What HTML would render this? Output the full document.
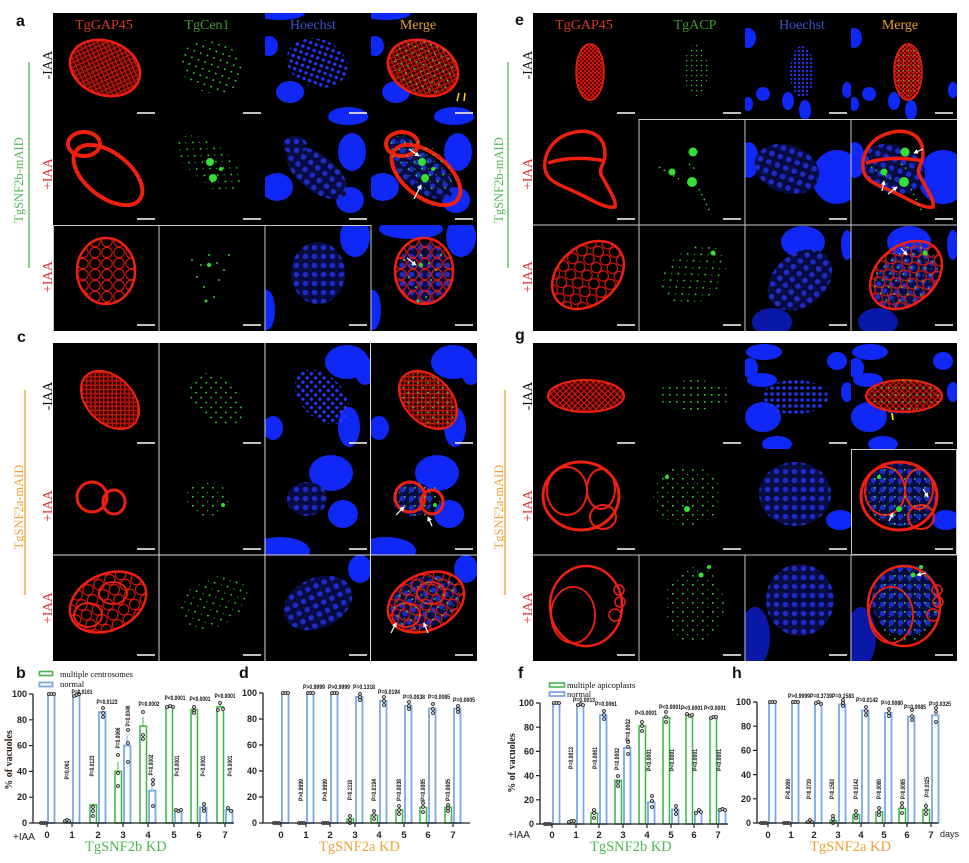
<!DOCTYPE html>
<html><head><meta charset="utf-8">
<style>
html,body{margin:0;padding:0;background:#fff;}
body{width:969px;height:858px;overflow:hidden;}
svg text{font-family:"Liberation Sans",sans-serif;}
.sf{font-family:"Liberation Serif",serif !important;}
.pl{font-size:6px;font-weight:bold;fill:#111;}
.yt{font-size:9px;font-weight:bold;fill:#222;text-anchor:end;}
.xt{font-size:9.5px;font-weight:bold;fill:#223;text-anchor:middle;font-family:"Liberation Serif",serif !important;}
.gb{fill:#fff;stroke:#45b84a;stroke-width:1.6;}
.bb{fill:#fff;stroke:#79a7e3;stroke-width:1.8;}
.dt{fill:#ccc;stroke:#222;stroke-width:.8;}
.ax{stroke:#222;stroke-width:1.3;fill:none;}
</style></head><body>
<svg width="969" height="858" viewBox="0 0 969 858" xmlns="http://www.w3.org/2000/svg">
<defs>
<pattern id="rc" width="6" height="6" patternUnits="userSpaceOnUse"><rect width="6" height="6" fill="#300"/><circle cx="3" cy="3" r="2.4" fill="none" stroke="#f0200f" stroke-width="1"/></pattern>
<pattern id="rcs" width="4" height="4" patternUnits="userSpaceOnUse"><rect width="4" height="4" fill="#400"/><circle cx="2" cy="2" r="1.5" fill="none" stroke="#f0200f" stroke-width=".8"/></pattern>
<pattern id="rcb" width="12" height="11" patternUnits="userSpaceOnUse"><circle cx="6" cy="5.5" r="5.2" fill="none" stroke="#d8180c" stroke-width="1.1"/></pattern>
<pattern id="gd" width="7" height="7" patternUnits="userSpaceOnUse"><rect x="2" y="2" width="1.6" height="1.6" fill="#35d035"/></pattern>
<pattern id="gds" width="5" height="5" patternUnits="userSpaceOnUse"><rect x="2" y="2" width="1.2" height="1.2" fill="#35d035"/></pattern>
<pattern id="gd2" width="10" height="9" patternUnits="userSpaceOnUse"><rect x="3" y="2" width="1.6" height="1.6" fill="#35d035"/><rect x="8" y="7" width="1.2" height="1.2" fill="#2aa02a"/></pattern>
<pattern id="bd" width="6" height="6" patternUnits="userSpaceOnUse"><circle cx="3" cy="3" r="1.8" fill="#2035f5"/></pattern>
<pattern id="bds" width="4" height="4" patternUnits="userSpaceOnUse"><circle cx="2" cy="2" r="1.2" fill="#2035f5"/></pattern>
<pattern id="bdb" width="9" height="9" patternUnits="userSpaceOnUse"><rect width="9" height="9" fill="#080c40"/><circle cx="4.5" cy="4.5" r="2.8" fill="#1c2cc4"/></pattern>
<marker id="ar" viewBox="0 0 6 6" refX="5" refY="3" markerWidth="4" markerHeight="4" orient="auto"><path d="M0,0 L6,3 L0,6 Z" fill="#fff"/></marker>
<g id="sb"><line x1="84" y1="100" x2="102" y2="100" stroke="#fff" stroke-width="1.6"/></g>

<!-- panel a -->
<g id="a1r"><ellipse cx="52" cy="55" rx="36" ry="27" transform="rotate(20 52 55)" fill="url(#rc)" stroke="#f0200f" stroke-width="2.5"/></g>
<g id="a1g"><ellipse cx="53" cy="54" rx="32" ry="26" transform="rotate(20 53 54)" fill="url(#gd)"/></g>
<g id="a1b"><g fill="#1028f5"><ellipse cx="15" cy="0" rx="25" ry="7"/><ellipse cx="4" cy="33" rx="9" ry="10"/><ellipse cx="25" cy="79" rx="14" ry="11"/><ellipse cx="83" cy="104" rx="20" ry="10"/></g><ellipse cx="52" cy="50" rx="31" ry="24" transform="rotate(20 52 50)" fill="url(#bd)"/></g>

<g id="a2r"><g fill="none" stroke="#f0200f" stroke-width="4"><ellipse cx="31" cy="25" rx="16" ry="12"/><ellipse cx="55" cy="56" rx="40" ry="22" transform="rotate(38 55 56)"/></g></g>
<g id="a2g"><ellipse cx="50" cy="45" rx="38" ry="20" transform="rotate(40 50 45)" fill="url(#gd2)"/><circle cx="51" cy="43" r="4" fill="#35e035"/><circle cx="54" cy="59" r="4" fill="#35e035"/><circle cx="62" cy="50" r="2" fill="#35e035"/></g>
<g id="a2b"><g fill="#1028f5"><ellipse cx="12" cy="68" rx="16" ry="14"/><ellipse cx="87" cy="33" rx="14" ry="19"/><ellipse cx="85" cy="81" rx="14" ry="13"/><ellipse cx="83" cy="-2" rx="20" ry="8"/></g><ellipse cx="52" cy="54" rx="36" ry="18" transform="rotate(38 52 54)" fill="url(#bdb)"/><ellipse cx="30" cy="26" rx="12" ry="9" fill="url(#bdb)"/></g>

<g id="a3r"><ellipse cx="53" cy="46" rx="29" ry="33" fill="url(#rcb)" stroke="#f0200f" stroke-width="2.5"/></g>
<g id="a3g" fill="#35d035"><circle cx="42" cy="40" r="1"/><circle cx="50" cy="30" r="1"/><circle cx="60" cy="55" r="1"/><circle cx="45" cy="62" r="1"/><circle cx="55" cy="72" r="1"/><circle cx="65" cy="45" r="1"/><circle cx="38" cy="52" r="1"/><circle cx="50" cy="40" r="2.2"/><circle cx="70" cy="30" r="1"/><circle cx="33" cy="35" r="1"/><circle cx="58" cy="38" r="1"/><circle cx="47" cy="76" r="1.5"/></g>
<g id="a3b"><g fill="#1028f5"><ellipse cx="90" cy="12" rx="15" ry="20"/><ellipse cx="2" cy="85" rx="8" ry="20"/></g><ellipse cx="53" cy="48" rx="27" ry="31" fill="url(#bdb)"/></g>

<!-- panel c -->
<g id="c1r"><ellipse cx="57" cy="57" rx="34" ry="23" transform="rotate(45 57 57)" fill="url(#rc)" stroke="#f0200f" stroke-width="2"/></g>
<g id="c1g"><ellipse cx="57" cy="57" rx="32" ry="21" transform="rotate(45 57 57)" fill="url(#gd)"/></g>
<g id="c1b"><g fill="#1028f5"><ellipse cx="82" cy="19" rx="22" ry="17"/><ellipse cx="100" cy="28" rx="10" ry="14"/><ellipse cx="84" cy="84" rx="11" ry="20"/><ellipse cx="8" cy="85" rx="10" ry="12"/></g><ellipse cx="57" cy="54" rx="32" ry="21" transform="rotate(45 57 54)" fill="url(#bd)"/></g>

<g id="c2r"><g fill="none" stroke="#f0200f" stroke-width="3"><ellipse cx="39" cy="48" rx="15" ry="15"/><ellipse cx="61" cy="53" rx="11" ry="12"/></g></g>
<g id="c2g"><ellipse cx="48" cy="50" rx="22" ry="17" fill="url(#gd2)"/><circle cx="64" cy="56" r="2" fill="#35e035"/></g>
<g id="c2b"><g fill="#1028f5"><ellipse cx="66" cy="24" rx="22" ry="18"/><ellipse cx="78" cy="65" rx="15" ry="14"/><ellipse cx="15" cy="102" rx="30" ry="14"/></g><ellipse cx="42" cy="50" rx="20" ry="17" fill="url(#bdb)"/></g>

<g id="c3r"><ellipse cx="55" cy="47" rx="40" ry="28" transform="rotate(-25 55 47)" fill="url(#rcb)" stroke="#f0200f" stroke-width="2.5"/><g fill="none" stroke="#f0200f" stroke-width="1.8"><ellipse cx="35" cy="60" rx="14" ry="12"/><ellipse cx="60" cy="38" rx="14" ry="11"/></g></g>
<g id="c3g"><ellipse cx="55" cy="47" rx="36" ry="25" transform="rotate(-25 55 47)" fill="url(#gd2)"/></g>
<g id="c3b"><g fill="#1028f5"><ellipse cx="95" cy="14" rx="12" ry="14"/></g><ellipse cx="53" cy="48" rx="36" ry="25" transform="rotate(-25 53 48)" fill="url(#bdb)"/></g>

<!-- panel e -->
<g id="e1r"><ellipse cx="57" cy="59" rx="14" ry="28" fill="url(#rcs)" stroke="#f0200f" stroke-width="1.5"/></g>
<g id="e1g"><ellipse cx="57" cy="57" rx="12" ry="26" fill="url(#gds)"/></g>
<g id="e1b"><g fill="#1028f5"><ellipse cx="3" cy="25" rx="8" ry="10"/><ellipse cx="18" cy="81" rx="7" ry="7"/><ellipse cx="43" cy="88" rx="6" ry="9"/><ellipse cx="60" cy="97" rx="6" ry="10"/><ellipse cx="3" cy="91" rx="5" ry="7"/><ellipse cx="102" cy="77" rx="5" ry="8"/></g><ellipse cx="57" cy="59" rx="12" ry="26" fill="url(#bds)"/></g>

<g id="e2r"><path d="M12,50 C10,35 20,20 35,15 C55,8 72,15 72,35 C72,45 66,48 68,55 C72,65 84,80 82,88 C70,90 55,78 40,72 C25,65 14,62 12,50 Z M15,44 Q40,36 72,42" fill="none" stroke="#f0200f" stroke-width="3.5"/></g>
<g id="e2g"><circle cx="54" cy="33" r="4.5" fill="#35e035"/><circle cx="53" cy="63" r="5" fill="#35e035"/><circle cx="33" cy="53" r="3.5" fill="#35e035"/><path d="M60,70 L65,80 L72,95 M20,48 L40,60 M50,45 L58,52" stroke="#35d035" stroke-width="1.5" stroke-dasharray="1.5 4" fill="none"/></g>
<g id="e2b"><g fill="#1028f5"><ellipse cx="92" cy="58" rx="25" ry="27"/><ellipse cx="4" cy="41" rx="10" ry="18"/></g><ellipse cx="42" cy="50" rx="33" ry="24" transform="rotate(20 42 50)" fill="url(#bdb)"/></g>

<g id="e3r"><ellipse cx="55" cy="50" rx="40" ry="29" transform="rotate(-40 55 50)" fill="url(#rcb)" stroke="#f0200f" stroke-width="2.5"/></g>
<g id="e3g"><ellipse cx="55" cy="50" rx="36" ry="26" transform="rotate(-40 55 50)" fill="url(#gd2)"/><circle cx="74" cy="28" r="2.5" fill="#35e035"/></g>
<g id="e3b"><g fill="#1028f5"><ellipse cx="58" cy="17" rx="22" ry="16"/><ellipse cx="102" cy="20" rx="6" ry="15"/></g><ellipse cx="27" cy="97" rx="20" ry="14" fill="#0a18a8"/><ellipse cx="55" cy="55" rx="36" ry="26" transform="rotate(-40 55 55)" fill="url(#bdb)"/></g>

<!-- panel g -->
<g id="g1r"><ellipse cx="53" cy="53" rx="38" ry="16" fill="url(#rc)" stroke="#f0200f" stroke-width="2"/></g>
<g id="g1g"><ellipse cx="55" cy="52" rx="36" ry="15" fill="url(#gd)"/></g>
<g id="g1b"><g fill="#1028f5"><ellipse cx="19" cy="9" rx="18" ry="8"/><ellipse cx="92" cy="18" rx="10" ry="9"/><ellipse cx="5" cy="25" rx="8" ry="10"/><ellipse cx="17" cy="37" rx="15" ry="7"/><ellipse cx="18" cy="74" rx="18" ry="15"/><ellipse cx="32" cy="101" rx="15" ry="8"/><ellipse cx="102" cy="49" rx="6" ry="10"/></g><ellipse cx="50" cy="54" rx="33" ry="17" fill="url(#bd)"/></g>

<g id="g2r"><g fill="none" stroke="#f0200f"><ellipse cx="48" cy="47" rx="38" ry="34" stroke-width="3"/><ellipse cx="34" cy="42" rx="20" ry="24" stroke-width="2"/><ellipse cx="68" cy="40" rx="14" ry="20" stroke-width="2"/><ellipse cx="70" cy="68" rx="13" ry="12" stroke-width="2"/></g></g>
<g id="g2g"><ellipse cx="48" cy="47" rx="34" ry="30" fill="url(#gd2)"/><circle cx="48" cy="60" r="3" fill="#35e035"/><circle cx="28" cy="28" r="2" fill="#35e035"/></g>
<g id="g2b"><g fill="#1028f5"><ellipse cx="95" cy="71" rx="14" ry="10"/></g><ellipse cx="50" cy="45" rx="36" ry="32" fill="url(#bdb)"/></g>

<g id="g3r"><g fill="none" stroke="#f0200f"><ellipse cx="53" cy="51" rx="36" ry="40" stroke-width="2.5"/><ellipse cx="40" cy="60" rx="22" ry="28" stroke-width="1.8"/><circle cx="86" cy="35" r="5" stroke-width="1.5"/><circle cx="87" cy="47" r="5" stroke-width="1.5"/><circle cx="82" cy="60" r="6" stroke-width="1.5"/></g></g>
<g id="g3g"><ellipse cx="55" cy="50" rx="30" ry="38" fill="url(#gd2)"/><circle cx="62" cy="20" r="2.5" fill="#35e035"/><circle cx="70" cy="12" r="2" fill="#35e035"/></g>
<g id="g3b"><ellipse cx="10" cy="82" rx="15" ry="30" fill="#0a18a8"/><ellipse cx="55" cy="45" rx="34" ry="36" fill="url(#bdb)"/></g>
</defs>

<!-- black backgrounds -->
<rect x="53" y="13" width="424" height="318" fill="#000"/>
<rect x="53" y="343" width="424" height="318" fill="#000"/>
<rect x="533" y="13" width="424" height="318" fill="#000"/>
<rect x="533" y="343" width="424" height="318" fill="#000"/>

<!-- ===== PANEL A cells ===== -->
<svg x="53" y="13" width="106" height="106"><use href="#a1r"/><use href="#sb"/></svg>
<svg x="159" y="13" width="106" height="106"><use href="#a1g"/><use href="#sb"/></svg>
<svg x="265" y="13" width="106" height="106"><use href="#a1b"/><use href="#sb"/></svg>
<svg x="371" y="13" width="106" height="106"><use href="#a1b"/><use href="#a1r"/><use href="#a1g"/><use href="#sb"/><path d="M88,80 l-2,8 M94,80 l-1,8" stroke="#ffd800" stroke-width="1.5"/></svg>
<svg x="53" y="119" width="106" height="106"><use href="#a2r"/><use href="#sb"/></svg>
<svg x="159" y="119" width="106" height="106"><use href="#a2g"/><use href="#sb"/></svg>
<svg x="265" y="119" width="106" height="106"><use href="#a2b"/><use href="#sb"/></svg>
<svg x="371" y="119" width="106" height="106"><use href="#a2b"/><use href="#a2r"/><use href="#a2g"/><use href="#sb"/><line x1="38" y1="30" x2="48" y2="37" stroke="#fff" stroke-width="1.2" marker-end="url(#ar)"/><line x1="43" y1="80" x2="50" y2="66" stroke="#fff" stroke-width="1.2" marker-end="url(#ar)"/></svg>
<svg x="53" y="225" width="106" height="106"><use href="#a3r"/><use href="#sb"/></svg>
<svg x="159" y="225" width="106" height="106"><use href="#a3g"/><use href="#sb"/></svg>
<svg x="265" y="225" width="106" height="106"><use href="#a3b"/><use href="#sb"/></svg>
<svg x="371" y="225" width="106" height="106"><ellipse cx="40" cy="4" rx="32" ry="10" fill="#1028f5"/><use href="#a3b"/><use href="#a3r"/><use href="#a3g"/><use href="#sb"/><line x1="36" y1="33" x2="45" y2="40" stroke="#fff" stroke-width="1.2" marker-end="url(#ar)"/></svg>
<g stroke="#c8c8c8" stroke-width="1" fill="none"><path d="M53.5,225.5 H371 M53.5,225 V331 M159,225 V331 M265,225 V331 M371,225 V331"/></g>

<!-- ===== PANEL C cells ===== -->
<svg x="53" y="343" width="106" height="106"><use href="#c1r"/><use href="#sb"/></svg>
<svg x="159" y="343" width="106" height="106"><use href="#c1g"/><use href="#sb"/></svg>
<svg x="265" y="343" width="106" height="106"><use href="#c1b"/><use href="#sb"/></svg>
<svg x="371" y="343" width="106" height="106"><use href="#c1b"/><use href="#c1r"/><use href="#c1g"/><use href="#sb"/></svg>
<svg x="53" y="449" width="106" height="106"><use href="#c2r"/><use href="#sb"/></svg>
<svg x="159" y="449" width="106" height="106"><use href="#c2g"/><use href="#sb"/></svg>
<svg x="265" y="449" width="106" height="106"><use href="#c2b"/><use href="#sb"/></svg>
<svg x="371" y="449" width="106" height="106"><use href="#c2b"/><use href="#c2r"/><use href="#c2g"/><use href="#sb"/><line x1="25" y1="66" x2="33" y2="58" stroke="#fff" stroke-width="1.2" marker-end="url(#ar)"/><line x1="61" y1="77" x2="57" y2="68" stroke="#fff" stroke-width="1.2" marker-end="url(#ar)"/></svg>
<svg x="53" y="555" width="106" height="106"><use href="#c3r"/><use href="#sb"/></svg>
<svg x="159" y="555" width="106" height="106"><use href="#c3g"/><use href="#sb"/></svg>
<svg x="265" y="555" width="106" height="106"><use href="#c3b"/><use href="#sb"/></svg>
<svg x="371" y="555" width="106" height="106"><use href="#c3b"/><use href="#c3r"/><use href="#c3g"/><use href="#sb"/><line x1="20" y1="78" x2="25" y2="68" stroke="#fff" stroke-width="1.2" marker-end="url(#ar)"/><line x1="57" y1="78" x2="53" y2="68" stroke="#fff" stroke-width="1.2" marker-end="url(#ar)"/></svg>
<g stroke="#dcdcdc" stroke-width="1" fill="none"><path d="M159,343 V661 M265,343 V661 M370.5,343 V661 M53,555 H477"/></g>

<!-- ===== PANEL E cells ===== -->
<svg x="533" y="13" width="106" height="106"><use href="#e1r"/><use href="#sb"/></svg>
<svg x="639" y="13" width="106" height="106"><use href="#e1g"/><use href="#sb"/></svg>
<svg x="745" y="13" width="106" height="106"><use href="#e1b"/><use href="#sb"/></svg>
<svg x="851" y="13" width="106" height="106"><use href="#e1b"/><use href="#e1r"/><use href="#e1g"/><use href="#sb"/></svg>
<svg x="533" y="119" width="106" height="106"><use href="#e2r"/><use href="#sb"/></svg>
<svg x="639" y="119" width="106" height="106"><use href="#e2g"/><use href="#sb"/></svg>
<svg x="745" y="119" width="106" height="106"><use href="#e2b"/><use href="#sb"/></svg>
<svg x="851" y="119" width="106" height="106"><use href="#e2b"/><use href="#e2r"/><use href="#e2g"/><use href="#sb"/><line x1="72" y1="30" x2="63" y2="34" stroke="#fff" stroke-width="1.2" marker-end="url(#ar)"/><line x1="31" y1="72" x2="33" y2="62" stroke="#fff" stroke-width="1.2" marker-end="url(#ar)"/><line x1="37" y1="75" x2="46" y2="68" stroke="#fff" stroke-width="1.2" marker-end="url(#ar)"/></svg>
<svg x="533" y="225" width="106" height="106"><use href="#e3r"/><use href="#sb"/></svg>
<svg x="639" y="225" width="106" height="106"><use href="#e3g"/><use href="#sb"/></svg>
<svg x="745" y="225" width="106" height="106"><use href="#e3b"/><use href="#sb"/></svg>
<svg x="851" y="225" width="106" height="106"><use href="#e3b"/><use href="#e3r"/><use href="#e3g"/><use href="#sb"/><line x1="50" y1="23" x2="56" y2="30" stroke="#fff" stroke-width="1.2" marker-end="url(#ar)"/></svg>
<g stroke="#c8c8c8" stroke-width="1" fill="none"><path d="M639,119.5 H957 M533,225 H957 M639,119 V331 M745,119 V331 M851,119 V331"/></g>

<!-- ===== PANEL G cells ===== -->
<svg x="533" y="343" width="106" height="106"><use href="#g1r"/><use href="#sb"/></svg>
<svg x="639" y="343" width="106" height="106"><use href="#g1g"/><use href="#sb"/></svg>
<svg x="745" y="343" width="106" height="106"><use href="#g1b"/><use href="#sb"/></svg>
<svg x="851" y="343" width="106" height="106"><use href="#g1b"/><use href="#g1r"/><use href="#g1g"/><use href="#sb"/><path d="M41,70 l1,7" stroke="#ffd800" stroke-width="1.8"/></svg>
<svg x="533" y="449" width="106" height="106"><use href="#g2r"/><use href="#sb"/></svg>
<svg x="639" y="449" width="106" height="106"><use href="#g2g"/><use href="#sb"/></svg>
<svg x="745" y="449" width="106" height="106"><use href="#g2b"/><use href="#sb"/></svg>
<svg x="851" y="449" width="106" height="106"><use href="#g2b"/><use href="#g2r"/><use href="#g2g"/><use href="#sb"/><line x1="72" y1="40" x2="77" y2="48" stroke="#fff" stroke-width="1.2" marker-end="url(#ar)"/><line x1="38" y1="72" x2="42" y2="64" stroke="#fff" stroke-width="1.2" marker-end="url(#ar)"/></svg>
<svg x="533" y="555" width="106" height="106"><use href="#g3r"/><use href="#sb"/></svg>
<svg x="639" y="555" width="106" height="106"><use href="#g3g"/><use href="#sb"/></svg>
<svg x="745" y="555" width="106" height="106"><use href="#g3b"/><use href="#sb"/></svg>
<svg x="851" y="555" width="106" height="106"><use href="#g3b"/><use href="#g3r"/><use href="#g3g"/><use href="#sb"/><line x1="75" y1="18" x2="66" y2="20" stroke="#fff" stroke-width="1.2" marker-end="url(#ar)"/></svg>
<g stroke="#c8c8c8" stroke-width="1" fill="none"><rect x="851.5" y="449.5" width="105" height="105"/><path d="M533,555 H957 M639,555 V661 M745,555 V661 M851,555 V661"/></g>

<!-- ===== headers & labels ===== -->
<g font-size="14" text-anchor="middle">
<text x="104" y="29" fill="#d83a22" class="sf">TgGAP45</text>
<text x="207" y="29" fill="#3f9a32" class="sf">TgCen1</text>
<text x="313" y="29" fill="#3a58c8" class="sf">Hoechst</text>
<text x="418" y="29" fill="#e8a030" class="sf">Merge</text>
<text x="584" y="29" fill="#d83a22" class="sf">TgGAP45</text>
<text x="695" y="29" fill="#3f9a32" class="sf">TgACP</text>
<text x="802" y="29" fill="#3a58c8" class="sf">Hoechst</text>
<text x="900" y="29" fill="#e8a030" class="sf">Merge</text>
</g>
<g font-size="16" font-weight="bold" fill="#111">
<text x="16" y="26">a</text><text x="17" y="342">c</text>
<text x="515" y="25">e</text><text x="515" y="340">g</text>
<text x="16" y="678">b</text><text x="239" y="678">d</text>
<text x="518" y="678">f</text><text x="732" y="678">h</text>
</g>
<!-- row labels -->
<g font-size="13.5" text-anchor="middle">
<text class="sf" transform="translate(52,65) rotate(-90)" fill="#111">-IAA</text>
<text class="sf" transform="translate(52,174) rotate(-90)" fill="#e8252a">+IAA</text>
<text class="sf" transform="translate(52,277) rotate(-90)" fill="#e8252a">+IAA</text>
<text class="sf" transform="translate(52,396) rotate(-90)" fill="#111">-IAA</text>
<text class="sf" transform="translate(52,506) rotate(-90)" fill="#e8252a">+IAA</text>
<text class="sf" transform="translate(52,608) rotate(-90)" fill="#e8252a">+IAA</text>
<text class="sf" transform="translate(532,65) rotate(-90)" fill="#111">-IAA</text>
<text class="sf" transform="translate(532,174) rotate(-90)" fill="#e8252a">+IAA</text>
<text class="sf" transform="translate(532,277) rotate(-90)" fill="#e8252a">+IAA</text>
<text class="sf" transform="translate(532,396) rotate(-90)" fill="#111">-IAA</text>
<text class="sf" transform="translate(532,506) rotate(-90)" fill="#e8252a">+IAA</text>
<text class="sf" transform="translate(532,608) rotate(-90)" fill="#e8252a">+IAA</text>
</g>
<g font-size="12.5" text-anchor="middle">
<text class="sf" transform="translate(23,180) rotate(-90)" fill="#4cb84c">TgSNF2b-mAID</text>
<text class="sf" transform="translate(23,507) rotate(-90)" fill="#f0a030">TgSNF2a-mAID</text>
<text class="sf" transform="translate(503,180) rotate(-90)" fill="#4cb84c">TgSNF2b-mAID</text>
<text class="sf" transform="translate(503,507) rotate(-90)" fill="#f0a030">TgSNF2a-mAID</text>
</g>
<line x1="29" y1="62" x2="29" y2="268" stroke="#4cb84c" stroke-width="1.3"/>
<line x1="25" y1="390" x2="25" y2="595" stroke="#f0a030" stroke-width="1.3"/>
<line x1="508" y1="62" x2="508" y2="268" stroke="#4cb84c" stroke-width="1.3"/>
<line x1="505" y1="390" x2="505" y2="595" stroke="#f0a030" stroke-width="1.3"/>

<!-- ===== CHART B ===== -->
<rect x="39.5" y="671.5" width="13" height="4" class="gb"/>
<rect x="39.5" y="682.5" width="13" height="4" class="bb"/>
<text class="sf" x="60" y="677" font-size="8.5" fill="#111">multiple centrosomes</text>
<text class="sf" x="60" y="687" font-size="8.5" fill="#111">normal</text>
<text class="sf" transform="translate(12,760) rotate(-90)" font-size="10" font-weight="bold" text-anchor="middle" fill="#2a1a10">% of vacuoles</text>
<g>
<rect class="gb" x="64" y="821.1" width="6.5" height="1.9"/>
<rect class="gb" x="90" y="804.9" width="6.5" height="18.1"/>
<rect class="gb" x="115" y="771.4" width="6.5" height="51.6"/>
<rect class="gb" x="140" y="726.2" width="6.5" height="96.8"/>
<rect class="gb" x="166" y="706.9" width="6.5" height="116.1"/>
<rect class="gb" x="191" y="709.5" width="6.5" height="113.5"/>
<rect class="gb" x="217" y="706.9" width="6.5" height="116.1"/>
<rect class="bb" x="48" y="694" width="6.5" height="129"/>
<rect class="bb" x="73" y="695.3" width="6.5" height="127.7"/>
<rect class="bb" x="99" y="712.1" width="6.5" height="110.9"/>
<rect class="bb" x="124" y="745.6" width="6.5" height="77.4"/>
<rect class="bb" x="149" y="790.7" width="6.5" height="32.3"/>
<rect class="bb" x="175" y="810.1" width="6.5" height="12.9"/>
<rect class="bb" x="200" y="807.5" width="6.5" height="15.5"/>
<rect class="bb" x="226" y="810.1" width="6.5" height="12.9"/>
</g>
<g stroke="#45b84a" stroke-width="1"><path d="M118,771 V762 M143,726 V717 M220,707 V703"/></g>
<g stroke="#79a7e3" stroke-width="1"><path d="M127,745 V736 M152,790 V782"/></g>
<g class="dt">
<circle cx="41" cy="823" r="1.5"/><circle cx="43.5" cy="823" r="1.5"/><circle cx="46" cy="823" r="1.5"/>
<circle cx="49" cy="694" r="1.5"/><circle cx="51.5" cy="694" r="1.5"/><circle cx="54" cy="694" r="1.5"/>
<circle cx="65" cy="821" r="1.5"/><circle cx="67" cy="820" r="1.5"/><circle cx="69" cy="821" r="1.5"/>
<circle cx="74" cy="696" r="1.5"/><circle cx="76.5" cy="695" r="1.5"/><circle cx="79" cy="694" r="1.5"/>
<circle cx="93" cy="816" r="1.5"/><circle cx="93" cy="811" r="1.5"/><circle cx="93" cy="807" r="1.5"/>
<circle cx="103" cy="708" r="1.5"/><circle cx="103" cy="713" r="1.5"/><circle cx="103" cy="717" r="1.5"/>
<circle cx="118" cy="755" r="1.5"/><circle cx="118" cy="786" r="1.5"/><circle cx="118" cy="773" r="1.5"/>
<circle cx="128" cy="730" r="1.5"/><circle cx="128" cy="762" r="1.5"/><circle cx="128" cy="743" r="1.5"/>
<circle cx="143" cy="712" r="1.5"/><circle cx="143" cy="739" r="1.5"/><circle cx="143" cy="735" r="1.5"/>
<circle cx="153" cy="780" r="1.5"/><circle cx="153" cy="806" r="1.5"/><circle cx="153" cy="784" r="1.5"/>
<circle cx="167" cy="707" r="1.5"/><circle cx="170" cy="706" r="1.5"/><circle cx="173" cy="707" r="1.5"/>
<circle cx="176" cy="810" r="1.5"/><circle cx="178.5" cy="811" r="1.5"/><circle cx="181" cy="810" r="1.5"/>
<circle cx="194" cy="707" r="1.5"/><circle cx="194" cy="711" r="1.5"/><circle cx="194" cy="713" r="1.5"/>
<circle cx="204" cy="804" r="1.5"/><circle cx="204" cy="808" r="1.5"/><circle cx="204" cy="811" r="1.5"/>
<circle cx="218" cy="710" r="1.5"/><circle cx="220" cy="703" r="1.5"/><circle cx="223" cy="709" r="1.5"/>
<circle cx="228" cy="808" r="1.5"/><circle cx="231" cy="811" r="1.5"/>
</g>
<path class="ax" d="M33,694 V823 H234"/>
<g stroke="#222" stroke-width="1.2"><path d="M29,823H33 M29,797.2H33 M29,771.4H33 M29,745.6H33 M29,719.8H33 M29,694H33 M47,823V827 M72,823V827 M98,823V827 M123,823V827 M148,823V827 M174,823V827 M199,823V827 M225,823V827"/></g>
<g class="yt"><text x="27" y="826">0</text><text x="27" y="800">20</text><text x="27" y="774.5">40</text><text x="27" y="748.5">60</text><text x="27" y="723">80</text><text x="27" y="697">100</text></g>
<g class="xt"><text x="47" y="838">0</text><text x="72" y="838">1</text><text x="98" y="838">2</text><text x="123" y="838">3</text><text x="148" y="838">4</text><text x="174" y="838">5</text><text x="199" y="838">6</text><text x="225" y="838">7</text></g>
<text x="13" y="840" font-size="10" fill="#222">+IAA</text>
<text class="sf" x="85" y="851" font-size="14.5" fill="#4cb84c">TgSNF2b KD</text>
<g class="pl" text-anchor="middle">
<text x="82" y="694" textLength="21" lengthAdjust="spacingAndGlyphs">P=0.0161</text>
<text x="107" y="704" textLength="21" lengthAdjust="spacingAndGlyphs">P=0.0123</text>
<text x="149" y="706" textLength="21" lengthAdjust="spacingAndGlyphs">P=0.0002</text>
<text x="175" y="700" textLength="21" lengthAdjust="spacingAndGlyphs">P&lt;0.0001</text>
<text x="200" y="701" textLength="21" lengthAdjust="spacingAndGlyphs">P&lt;0.0001</text>
<text x="225" y="698" textLength="21" lengthAdjust="spacingAndGlyphs">P&lt;0.0001</text>
<text transform="translate(130,716) rotate(-90)" textLength="21" lengthAdjust="spacingAndGlyphs">P=0.0046</text>
<text transform="translate(120,738) rotate(-90)" textLength="21" lengthAdjust="spacingAndGlyphs">P=0.0066</text>
<text transform="translate(69,770) rotate(-90)" textLength="19" lengthAdjust="spacingAndGlyphs">P=0.061</text>
<text transform="translate(94,766) rotate(-90)" textLength="21" lengthAdjust="spacingAndGlyphs">P=0.0123</text>
<text transform="translate(153,765) rotate(-90)" textLength="21" lengthAdjust="spacingAndGlyphs">P=0.0002</text>
<text transform="translate(179,766) rotate(-90)" textLength="21" lengthAdjust="spacingAndGlyphs">P&lt;0.0001</text>
<text transform="translate(205,766) rotate(-90)" textLength="21" lengthAdjust="spacingAndGlyphs">P&lt;0.0001</text>
<text transform="translate(232,766) rotate(-90)" textLength="21" lengthAdjust="spacingAndGlyphs">P&lt;0.0001</text>
</g>

<!-- ===== CHART D ===== -->
<g>
<rect class="gb" x="347" y="819.1" width="6.5" height="3.9"/>
<rect class="gb" x="371" y="815.2" width="6.5" height="7.8"/>
<rect class="gb" x="396" y="810" width="6.5" height="13"/>
<rect class="gb" x="420" y="807.4" width="6.5" height="15.6"/>
<rect class="gb" x="445" y="807.4" width="6.5" height="15.6"/>
<rect class="bb" x="282" y="693" width="6.5" height="130"/>
<rect class="bb" x="307" y="693" width="6.5" height="130"/>
<rect class="bb" x="331" y="693" width="6.5" height="130"/>
<rect class="bb" x="356" y="696.9" width="6.5" height="126.1"/>
<rect class="bb" x="380" y="700.8" width="6.5" height="122.2"/>
<rect class="bb" x="405" y="706" width="6.5" height="117"/>
<rect class="bb" x="429" y="708.6" width="6.5" height="114.4"/>
<rect class="bb" x="454" y="708.6" width="6.5" height="114.4"/>
</g>
<g class="dt">
<circle cx="274" cy="823" r="1.5"/><circle cx="276.5" cy="823" r="1.5"/><circle cx="279" cy="823" r="1.5"/>
<circle cx="299" cy="823" r="1.5"/><circle cx="301.5" cy="823" r="1.5"/><circle cx="304" cy="823" r="1.5"/>
<circle cx="323" cy="823" r="1.5"/><circle cx="325.5" cy="823" r="1.5"/><circle cx="328" cy="823" r="1.5"/>
<circle cx="283" cy="693" r="1.5"/><circle cx="285.5" cy="693" r="1.5"/><circle cx="288" cy="693" r="1.5"/>
<circle cx="308" cy="693" r="1.5"/><circle cx="310.5" cy="693" r="1.5"/><circle cx="313" cy="693" r="1.5"/>
<circle cx="332" cy="693" r="1.5"/><circle cx="334.5" cy="693" r="1.5"/><circle cx="337" cy="693" r="1.5"/>
<circle cx="350" cy="816" r="1.5"/><circle cx="350" cy="820" r="1.5"/><circle cx="350" cy="823" r="1.5"/>
<circle cx="360" cy="694" r="1.5"/><circle cx="360" cy="697" r="1.5"/><circle cx="360" cy="700" r="1.5"/>
<circle cx="374" cy="811" r="1.5"/><circle cx="374" cy="815" r="1.5"/><circle cx="374" cy="819" r="1.5"/>
<circle cx="384" cy="697" r="1.5"/><circle cx="384" cy="701" r="1.5"/><circle cx="384" cy="705" r="1.5"/>
<circle cx="399" cy="806" r="1.5"/><circle cx="399" cy="810" r="1.5"/><circle cx="399" cy="814" r="1.5"/>
<circle cx="409" cy="702" r="1.5"/><circle cx="409" cy="706" r="1.5"/><circle cx="409" cy="709" r="1.5"/>
<circle cx="423" cy="803" r="1.5"/><circle cx="423" cy="807" r="1.5"/><circle cx="423" cy="812" r="1.5"/>
<circle cx="433" cy="704" r="1.5"/><circle cx="433" cy="709" r="1.5"/><circle cx="433" cy="713" r="1.5"/>
<circle cx="448" cy="805" r="1.5"/><circle cx="448" cy="808" r="1.5"/><circle cx="448" cy="811" r="1.5"/>
<circle cx="458" cy="706" r="1.5"/><circle cx="458" cy="709" r="1.5"/><circle cx="458" cy="712" r="1.5"/>
</g>
<path class="ax" d="M263,693 V823 H470"/>
<g stroke="#222" stroke-width="1.2"><path d="M259,823H263 M259,797H263 M259,771H263 M259,745H263 M259,719H263 M259,693H263 M281,823V827 M306,823V827 M330,823V827 M355,823V827 M379,823V827 M404,823V827 M428,823V827 M453,823V827"/></g>
<g class="yt"><text x="257" y="826">0</text><text x="257" y="800">20</text><text x="257" y="774">40</text><text x="257" y="748">60</text><text x="257" y="722">80</text><text x="257" y="696">100</text></g>
<g class="xt"><text x="281" y="838">0</text><text x="306" y="838">1</text><text x="330" y="838">2</text><text x="355" y="838">3</text><text x="379" y="838">4</text><text x="404" y="838">5</text><text x="428" y="838">6</text><text x="453" y="838">7</text></g>
<text class="sf" x="319" y="851" font-size="14.5" fill="#f0a030">TgSNF2a KD</text>
<g class="pl" text-anchor="middle">
<text x="314" y="689" textLength="22" lengthAdjust="spacingAndGlyphs">P&gt;0.9999</text>
<text x="339" y="689" textLength="22" lengthAdjust="spacingAndGlyphs">P&gt;0.9999</text>
<text x="364" y="689" textLength="22" lengthAdjust="spacingAndGlyphs">P=0.1318</text>
<text x="389" y="694" textLength="22" lengthAdjust="spacingAndGlyphs">P=0.0194</text>
<text x="414" y="699" textLength="22" lengthAdjust="spacingAndGlyphs">P=0.0038</text>
<text x="439" y="699" textLength="22" lengthAdjust="spacingAndGlyphs">P=0.0085</text>
<text x="464" y="702" textLength="22" lengthAdjust="spacingAndGlyphs">P=0.0005</text>
<text transform="translate(303,790) rotate(-90)" textLength="22" lengthAdjust="spacingAndGlyphs">P&gt;0.9999</text>
<text transform="translate(327,790) rotate(-90)" textLength="22" lengthAdjust="spacingAndGlyphs">P&gt;0.9999</text>
<text transform="translate(352,790) rotate(-90)" textLength="20" lengthAdjust="spacingAndGlyphs">P=0.1318</text>
<text transform="translate(376,790) rotate(-90)" textLength="22" lengthAdjust="spacingAndGlyphs">P=0.0194</text>
<text transform="translate(401,790) rotate(-90)" textLength="22" lengthAdjust="spacingAndGlyphs">P=0.0038</text>
<text transform="translate(425,790) rotate(-90)" textLength="22" lengthAdjust="spacingAndGlyphs">P=0.0085</text>
<text transform="translate(450,790) rotate(-90)" textLength="22" lengthAdjust="spacingAndGlyphs">P=0.0005</text>
</g>

<!-- ===== CHART F ===== -->
<rect x="549.5" y="683" width="15" height="4" class="gb"/>
<rect x="549.5" y="692" width="15" height="4" class="bb"/>
<text class="sf" x="567" y="688" font-size="8.5" fill="#111">multiple apicoplasts</text>
<text class="sf" x="567" y="697" font-size="8.5" fill="#111">normal</text>
<text class="sf" transform="translate(515,763) rotate(-90)" font-size="10" font-weight="bold" text-anchor="middle" fill="#2a1a10">% of vacuoles</text>
<g>
<rect class="gb" x="568" y="821.6" width="6.5" height="2.4"/>
<rect class="gb" x="591" y="813.1" width="6.5" height="10.9"/>
<rect class="gb" x="615" y="780.4" width="6.5" height="43.6"/>
<rect class="gb" x="639" y="726" width="6.5" height="98"/>
<rect class="gb" x="663" y="717.5" width="6.5" height="106.5"/>
<rect class="gb" x="686" y="715.1" width="6.5" height="108.9"/>
<rect class="gb" x="710" y="717.5" width="6.5" height="106.5"/>
<rect class="bb" x="553" y="703" width="6.5" height="121"/>
<rect class="bb" x="577" y="705.4" width="6.5" height="118.6"/>
<rect class="bb" x="600" y="715.1" width="6.5" height="108.9"/>
<rect class="bb" x="624" y="747.8" width="6.5" height="76.2"/>
<rect class="bb" x="648" y="802.2" width="6.5" height="21.8"/>
<rect class="bb" x="672" y="809.5" width="6.5" height="14.5"/>
<rect class="bb" x="695" y="811.9" width="6.5" height="12.1"/>
<rect class="bb" x="719" y="809.5" width="6.5" height="14.5"/>
</g>
<g class="dt">
<circle cx="545" cy="824" r="1.5"/><circle cx="547.5" cy="824" r="1.5"/><circle cx="550" cy="824" r="1.5"/>
<circle cx="554" cy="703" r="1.5"/><circle cx="556.5" cy="703" r="1.5"/><circle cx="559" cy="703" r="1.5"/>
<circle cx="569" cy="822" r="1.5"/><circle cx="571.5" cy="821" r="1.5"/><circle cx="574" cy="821" r="1.5"/>
<circle cx="578" cy="705" r="1.5"/><circle cx="580.5" cy="704" r="1.5"/><circle cx="583" cy="705" r="1.5"/>
<circle cx="594" cy="818" r="1.5"/><circle cx="594" cy="813" r="1.5"/><circle cx="594" cy="810" r="1.5"/>
<circle cx="604" cy="711" r="1.5"/><circle cx="604" cy="715" r="1.5"/><circle cx="604" cy="719" r="1.5"/>
<circle cx="618" cy="776" r="1.5"/><circle cx="618" cy="782" r="1.5"/><circle cx="618" cy="786" r="1.5"/>
<circle cx="628" cy="742" r="1.5"/><circle cx="628" cy="747" r="1.5"/><circle cx="628" cy="754" r="1.5"/>
<circle cx="642" cy="722" r="1.5"/><circle cx="642" cy="726" r="1.5"/><circle cx="642" cy="731" r="1.5"/>
<circle cx="652" cy="796" r="1.5"/><circle cx="652" cy="801" r="1.5"/><circle cx="652" cy="807" r="1.5"/>
<circle cx="666" cy="712" r="1.5"/><circle cx="666" cy="717" r="1.5"/><circle cx="666" cy="722" r="1.5"/>
<circle cx="676" cy="806" r="1.5"/><circle cx="676" cy="810" r="1.5"/><circle cx="676" cy="814" r="1.5"/>
<circle cx="687" cy="714" r="1.5"/><circle cx="690" cy="716" r="1.5"/><circle cx="692" cy="715" r="1.5"/>
<circle cx="696" cy="813" r="1.5"/><circle cx="699" cy="810" r="1.5"/><circle cx="701" cy="812" r="1.5"/>
<circle cx="711" cy="718" r="1.5"/><circle cx="713.5" cy="717" r="1.5"/><circle cx="716" cy="717" r="1.5"/>
<circle cx="720" cy="810" r="1.5"/><circle cx="722.5" cy="809" r="1.5"/><circle cx="725" cy="810" r="1.5"/>
</g>
<path class="ax" d="M540,703 V824 H728"/>
<g stroke="#222" stroke-width="1.2"><path d="M536,824H540 M536,799.8H540 M536,775.6H540 M536,751.4H540 M536,727.2H540 M536,703H540 M552,824V828 M576,824V828 M599,824V828 M623,824V828 M647,824V828 M671,824V828 M694,824V828 M718,824V828"/></g>
<g class="yt"><text x="534" y="827">0</text><text x="534" y="803">20</text><text x="534" y="779">40</text><text x="534" y="754.5">60</text><text x="534" y="730.5">80</text><text x="534" y="706">100</text></g>
<g class="xt"><text x="552" y="838">0</text><text x="576" y="838">1</text><text x="599" y="838">2</text><text x="623" y="838">3</text><text x="647" y="838">4</text><text x="671" y="838">5</text><text x="694" y="838">6</text><text x="718" y="838">7</text></g>
<text x="508" y="838" font-size="10" fill="#222">+IAA</text>
<text class="sf" x="590" y="851" font-size="14.5" fill="#4cb84c">TgSNF2b KD</text>
<g class="pl" text-anchor="middle">
<text x="584" y="702" textLength="22" lengthAdjust="spacingAndGlyphs">P=0.0013</text>
<text x="606" y="706" textLength="22" lengthAdjust="spacingAndGlyphs">P=0.0061</text>
<text x="646" y="715" textLength="22" lengthAdjust="spacingAndGlyphs">P&lt;0.0001</text>
<text x="670" y="709" textLength="22" lengthAdjust="spacingAndGlyphs">P&lt;0.0001</text>
<text x="692" y="710" textLength="22" lengthAdjust="spacingAndGlyphs">P&lt;0.0001</text>
<text x="715" y="710" textLength="22" lengthAdjust="spacingAndGlyphs">P&lt;0.0001</text>
<text transform="translate(630,730) rotate(-90)" textLength="22" lengthAdjust="spacingAndGlyphs">P=0.0002</text>
<text transform="translate(573,758) rotate(-90)" textLength="22" lengthAdjust="spacingAndGlyphs">P=0.0013</text>
<text transform="translate(597,758) rotate(-90)" textLength="22" lengthAdjust="spacingAndGlyphs">P=0.0061</text>
<text transform="translate(619,759) rotate(-90)" textLength="22" lengthAdjust="spacingAndGlyphs">P=0.0002</text>
<text transform="translate(651,760) rotate(-90)" textLength="22" lengthAdjust="spacingAndGlyphs">P&lt;0.0001</text>
<text transform="translate(674,760) rotate(-90)" textLength="22" lengthAdjust="spacingAndGlyphs">P&lt;0.0001</text>
<text transform="translate(697,760) rotate(-90)" textLength="22" lengthAdjust="spacingAndGlyphs">P&lt;0.0001</text>
<text transform="translate(721,760) rotate(-90)" textLength="22" lengthAdjust="spacingAndGlyphs">P&lt;0.0001</text>
</g>

<!-- ===== CHART H ===== -->
<g>
<rect class="gb" x="806" y="821.8" width="6.5" height="1.2"/>
<rect class="gb" x="830" y="820.6" width="6.5" height="2.4"/>
<rect class="gb" x="853" y="814.5" width="6.5" height="8.5"/>
<rect class="gb" x="876" y="812.1" width="6.5" height="10.9"/>
<rect class="gb" x="899" y="808.5" width="6.5" height="14.5"/>
<rect class="gb" x="923" y="809.7" width="6.5" height="13.3"/>
<rect class="bb" x="769" y="702" width="6.5" height="121"/>
<rect class="bb" x="792" y="702" width="6.5" height="121"/>
<rect class="bb" x="815" y="703.2" width="6.5" height="119.8"/>
<rect class="bb" x="839" y="704.4" width="6.5" height="118.6"/>
<rect class="bb" x="862" y="710.5" width="6.5" height="112.5"/>
<rect class="bb" x="885" y="712.9" width="6.5" height="110.1"/>
<rect class="bb" x="908" y="716.5" width="6.5" height="106.5"/>
<rect class="bb" x="932" y="715.3" width="6.5" height="107.7"/>
</g>
<g stroke="#45b84a" stroke-width="1"><path d="M926,809 V802"/></g>
<g class="dt">
<circle cx="761" cy="823" r="1.5"/><circle cx="763.5" cy="823" r="1.5"/><circle cx="766" cy="823" r="1.5"/>
<circle cx="784" cy="823" r="1.5"/><circle cx="786.5" cy="823" r="1.5"/><circle cx="789" cy="823" r="1.5"/>
<circle cx="770" cy="702" r="1.5"/><circle cx="772.5" cy="702" r="1.5"/><circle cx="775" cy="702" r="1.5"/>
<circle cx="793" cy="702" r="1.5"/><circle cx="795.5" cy="702" r="1.5"/><circle cx="798" cy="702" r="1.5"/>
<circle cx="808" cy="822" r="1.5"/><circle cx="810" cy="820" r="1.5"/><circle cx="812" cy="822" r="1.5"/>
<circle cx="816" cy="703" r="1.5"/><circle cx="818.5" cy="702" r="1.5"/><circle cx="821" cy="704" r="1.5"/>
<circle cx="833" cy="823" r="1.5"/><circle cx="833" cy="819" r="1.5"/><circle cx="833" cy="816" r="1.5"/>
<circle cx="843" cy="700" r="1.5"/><circle cx="843" cy="703" r="1.5"/><circle cx="843" cy="706" r="1.5"/>
<circle cx="856" cy="811" r="1.5"/><circle cx="856" cy="815" r="1.5"/><circle cx="856" cy="818" r="1.5"/>
<circle cx="866" cy="707" r="1.5"/><circle cx="866" cy="711" r="1.5"/><circle cx="866" cy="715" r="1.5"/>
<circle cx="879" cy="808" r="1.5"/><circle cx="879" cy="812" r="1.5"/><circle cx="879" cy="815" r="1.5"/>
<circle cx="889" cy="709" r="1.5"/><circle cx="889" cy="713" r="1.5"/><circle cx="889" cy="716" r="1.5"/>
<circle cx="902" cy="803" r="1.5"/><circle cx="902" cy="807" r="1.5"/><circle cx="902" cy="813" r="1.5"/>
<circle cx="912" cy="710" r="1.5"/><circle cx="912" cy="716" r="1.5"/><circle cx="912" cy="720" r="1.5"/>
<circle cx="926" cy="806" r="1.5"/><circle cx="926" cy="810" r="1.5"/><circle cx="926" cy="814" r="1.5"/>
<circle cx="936" cy="708" r="1.5"/><circle cx="936" cy="712" r="1.5"/><circle cx="936" cy="722" r="1.5"/>
</g>
<path class="ax" d="M757,702 V823 H938"/>
<g stroke="#222" stroke-width="1.2"><path d="M753,823H757 M753,798.8H757 M753,774.6H757 M753,750.4H757 M753,726.2H757 M753,702H757 M768,823V827 M791,823V827 M814,823V827 M838,823V827 M861,823V827 M884,823V827 M907,823V827 M931,823V827"/></g>
<g class="yt"><text x="751" y="826">0</text><text x="751" y="802">20</text><text x="751" y="778">40</text><text x="751" y="753.5">60</text><text x="751" y="729.5">80</text><text x="751" y="705">100</text></g>
<g class="xt"><text x="768" y="838">0</text><text x="791" y="838">1</text><text x="814" y="838">2</text><text x="838" y="838">3</text><text x="861" y="838">4</text><text x="884" y="838">5</text><text x="907" y="838">6</text><text x="931" y="838">7</text></g>
<text x="940" y="837" font-size="9" fill="#222">days</text>
<text class="sf" x="810" y="851" font-size="14.5" fill="#f0a030">TgSNF2a KD</text>
<g class="pl" text-anchor="middle">
<text x="799" y="698" textLength="22" lengthAdjust="spacingAndGlyphs">P&gt;0.9999</text>
<text x="821" y="698" textLength="22" lengthAdjust="spacingAndGlyphs">P=0.3739</text>
<text x="843" y="698" textLength="22" lengthAdjust="spacingAndGlyphs">P=0.1583</text>
<text x="867" y="702" textLength="22" lengthAdjust="spacingAndGlyphs">P=0.0142</text>
<text x="892" y="705" textLength="22" lengthAdjust="spacingAndGlyphs">P=0.0080</text>
<text x="915" y="709" textLength="22" lengthAdjust="spacingAndGlyphs">P=0.0085</text>
<text x="940" y="706" textLength="22" lengthAdjust="spacingAndGlyphs">P=0.0325</text>
<text transform="translate(790,789) rotate(-90)" textLength="20" lengthAdjust="spacingAndGlyphs">P&gt;0.9999</text>
<text transform="translate(811,789) rotate(-90)" textLength="20" lengthAdjust="spacingAndGlyphs">P=0.3739</text>
<text transform="translate(834,789) rotate(-90)" textLength="20" lengthAdjust="spacingAndGlyphs">P=0.1583</text>
<text transform="translate(858,789) rotate(-90)" textLength="20" lengthAdjust="spacingAndGlyphs">P=0.0142</text>
<text transform="translate(881,789) rotate(-90)" textLength="20" lengthAdjust="spacingAndGlyphs">P=0.0080</text>
<text transform="translate(905,789) rotate(-90)" textLength="20" lengthAdjust="spacingAndGlyphs">P=0.0085</text>
<text transform="translate(929,787) rotate(-90)" textLength="20" lengthAdjust="spacingAndGlyphs">P=0.0325</text>
</g>
</svg>
</body></html>
